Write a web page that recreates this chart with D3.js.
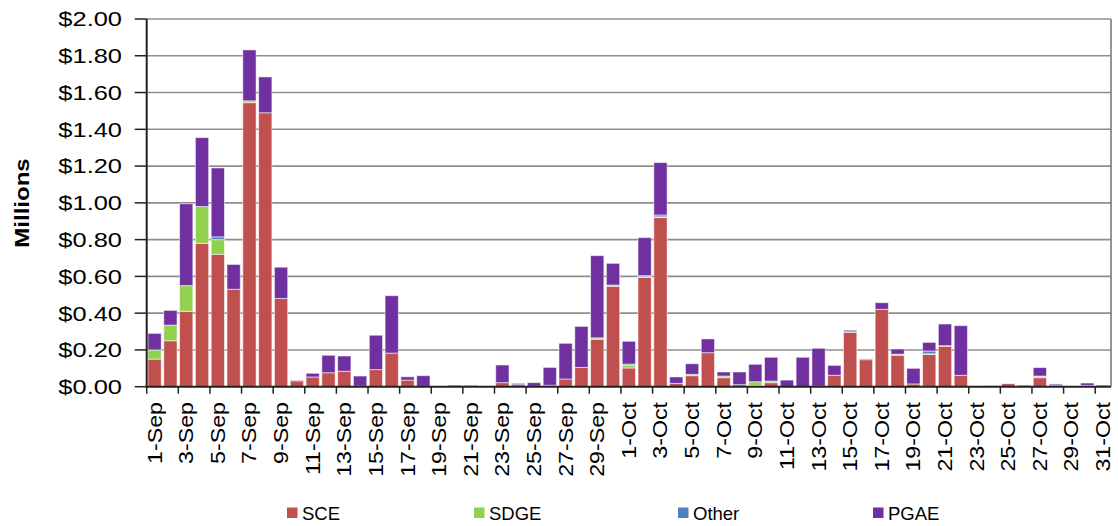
<!DOCTYPE html>
<html><head><meta charset="utf-8">
<script src="https://cdn.jsdelivr.net/npm/d3@7"></script>
<style>
html,body{margin:0;padding:0;background:#fff;}
text{font-family:"Liberation Sans",Arial,sans-serif;fill:#000;}
</style></head>
<body><svg id="c" width="1118" height="526"></svg>
<script>
const categories = ["1-Sep","2-Sep","3-Sep","4-Sep","5-Sep","6-Sep","7-Sep","8-Sep","9-Sep","10-Sep",
"11-Sep","12-Sep","13-Sep","14-Sep","15-Sep","16-Sep","17-Sep","18-Sep","19-Sep","20-Sep",
"21-Sep","22-Sep","23-Sep","24-Sep","25-Sep","26-Sep","27-Sep","28-Sep","29-Sep","30-Sep",
"1-Oct","2-Oct","3-Oct","4-Oct","5-Oct","6-Oct","7-Oct","8-Oct","9-Oct","10-Oct",
"11-Oct","12-Oct","13-Oct","14-Oct","15-Oct","16-Oct","17-Oct","18-Oct","19-Oct","20-Oct",
"21-Oct","22-Oct","23-Oct","24-Oct","25-Oct","26-Oct","27-Oct","28-Oct","29-Oct","30-Oct","31-Oct"];

const SCE = [0.15,0.25,0.41,0.78,0.72,0.53,1.545,1.49,0.48,0.032,
0.053,0.076,0.084,0.003,0.093,0.183,0.036,0.002,0.0,0.001,
0.001,0.0,0.022,0.011,0.002,0.008,0.042,0.105,0.258,0.546,
0.102,0.595,0.92,0.018,0.06,0.185,0.049,0.011,0.007,0.022,
0.001,0.001,0.003,0.062,0.296,0.147,0.421,0.171,0.015,0.176,
0.22,0.062,0.001,0.001,0.017,0.002,0.049,0.009,0.001,0.007,0.001];

const SDGE = [0.05,0.085,0.14,0.20,0.08,0,0.01,0,0,0,
0,0,0,0,0,0,0,0,0,0,
0,0,0,0,0,0,0,0,0.008,0.007,
0.014,0.003,0.004,0,0.007,0,0.009,0,0.02,0.009,
0,0,0,0,0.003,0,0,0.006,0,0.003,
0.003,0,0,0,0.002,0,0.007,0,0,0,0];

const Other = [0,0,0,0,0.015,0,0,0,0,0,
0,0,0,0,0,0,0,0,0,0,
0,0,0,0,0,0,0,0,0,0,
0.007,0.006,0.01,0,0,0,0,0,0,0,
0,0,0,0,0,0,0,0,0,0.015,
0,0,0,0,0,0,0.002,0,0,0,0];

const PGAE = [0.09,0.08,0.445,0.375,0.375,0.135,0.277,0.195,0.17,0.003,
0.02,0.095,0.083,0.055,0.187,0.312,0.018,0.058,0.001,0.007,
0.006,0.004,0.096,0.007,0.02,0.097,0.194,0.223,0.447,0.118,
0.124,0.207,0.285,0.035,0.058,0.075,0.022,0.069,0.095,0.129,
0.035,0.159,0.206,0.054,0.008,0.004,0.036,0.028,0.085,0.047,
0.118,0.27,0.003,0.004,0,0.006,0.046,0.006,0.002,0.013,0.007];

const seriesNames = ["SCE","SDGE","Other","PGAE"];
const seriesColors = ["#C0504D","#92D050","#4F81BD","#7030A0"];
const yTicks = [0,0.2,0.4,0.6,0.8,1.0,1.2,1.4,1.6,1.8,2.0];

const seriesData = [SCE,SDGE,Other,PGAE];
const rows = categories.map((c,i)=>{const r={cat:c}; seriesNames.forEach((s,j)=>r[s]=seriesData[j][i]); return r;});

const svg = d3.select("#c");
svg.append("rect").attr("width",1118).attr("height",526).attr("fill","#fff");
const L=146.7, R=1111, T=19, B=386.7;
const x = d3.scaleBand().domain(categories).range([L,R]).paddingInner(0.16).paddingOuter(0.08);
const xb = d3.scaleBand().domain(categories).range([L,R]);
const y = d3.scaleLinear().domain([0,2]).range([B,T]);

function stretch(sel,k){sel.each(function(){const l=this.getComputedTextLength();this.setAttribute("textLength",l*k);this.setAttribute("lengthAdjust","spacingAndGlyphs");});}

// gridlines
svg.append("g").selectAll("line").data(yTicks.filter(d=>d>0)).join("line")
 .attr("x1",L).attr("x2",R).attr("y1",d=>y(d)).attr("y2",d=>y(d))
 .attr("stroke","#8e8e8e").attr("stroke-width",1.6);
// right border
svg.append("line").attr("x1",R).attr("x2",R).attr("y1",T).attr("y2",B).attr("stroke","#7a7a7a").attr("stroke-width",1.6);

// bars
const stack = d3.stack().keys(seriesNames)(rows);
const gb = svg.append("g");
stack.forEach((layer,j)=>{
 gb.append("g").selectAll("rect").data(layer).join("rect")
  .attr("x",d=>x(d.data.cat)).attr("width",x.bandwidth())
  .attr("y",d=>y(d[1])).attr("height",d=>Math.max(0,y(d[0])-y(d[1])))
  .attr("fill",seriesColors[j])
  .attr("stroke","#ffffff").attr("stroke-opacity",0.55).attr("stroke-width",1);
});

// y axis
const ya = svg.append("g");
ya.append("line").attr("x1",L).attr("x2",L).attr("y1",T).attr("y2",B+1).attr("stroke","#222").attr("stroke-width",2);
ya.selectAll("line.t").data(yTicks).join("line").attr("class","t")
 .attr("x1",L-12).attr("x2",L).attr("y1",d=>y(d)).attr("y2",d=>y(d)).attr("stroke","#222").attr("stroke-width",1.5);
const fmt = d3.format("$.2f");
ya.selectAll("text").data(yTicks).join("text")
 .attr("x",122).attr("y",d=>y(d)).attr("dy","0.36em").attr("text-anchor","end")
 .attr("font-size",20.5).text(d=>fmt(d)).call(stretch,1.24);

// x axis
const xa = svg.append("g");
xa.append("line").attr("x1",L-1).attr("x2",R).attr("y1",B).attr("y2",B).attr("stroke","#222").attr("stroke-width",2);
const labeled = categories.filter((c,i)=>i%2===0);
xa.selectAll("line.t").data(labeled).join("line").attr("class","t")
 .attr("x1",d=>xb(d)).attr("x2",d=>xb(d)).attr("y1",B).attr("y2",B+7).attr("stroke","#222").attr("stroke-width",1.5);
xa.selectAll("text").data(labeled).join("text")
 .attr("transform",d=>`translate(${xb(d)+xb.bandwidth()/2},402) rotate(-90)`)
 .attr("dy","0.35em").attr("text-anchor","end").attr("font-size",20).text(d=>d).call(stretch,1.16);

// y title
svg.append("text").attr("transform","translate(22,203) rotate(-90)").attr("text-anchor","middle")
 .attr("dy","0.35em").attr("font-size",20).attr("font-weight","bold").text("Millions").call(stretch,1.2);

// legend
const legX = [287,474,678,873];
const lg = svg.append("g");
seriesNames.forEach((s,i)=>{
 lg.append("rect").attr("x",legX[i]).attr("y",507.5).attr("width",10.5).attr("height",10.5).attr("fill",seriesColors[i]);
 lg.append("text").attr("x",legX[i]+15).attr("y",513).attr("dy","0.36em").attr("font-size",18.5).text(s);
});
</script></body></html>
